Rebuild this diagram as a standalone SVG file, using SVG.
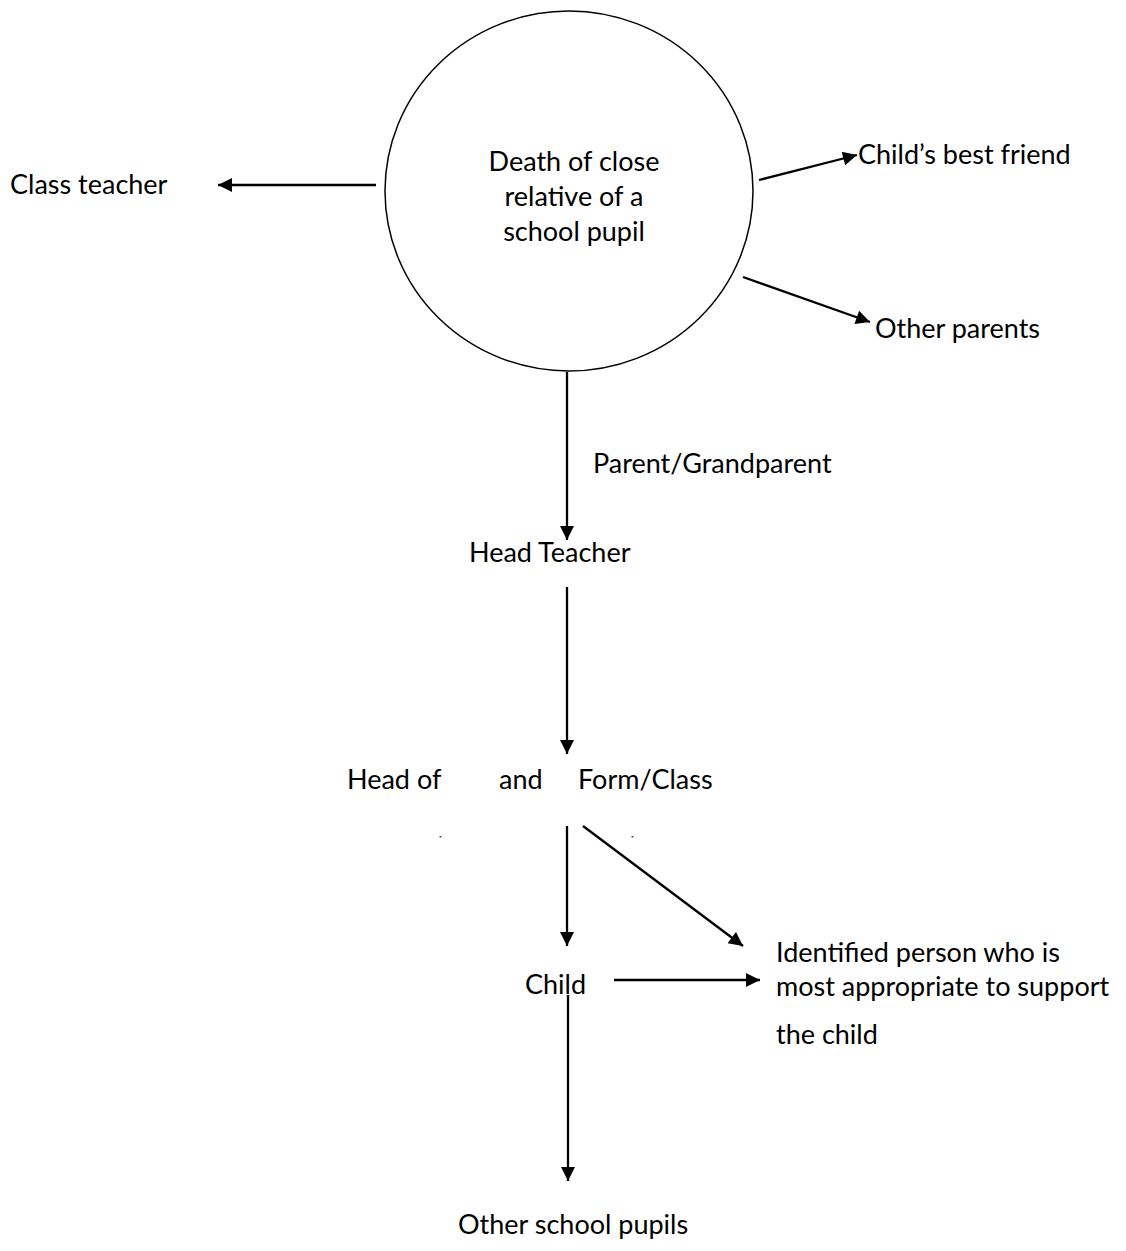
<svg xmlns="http://www.w3.org/2000/svg" width="1126" height="1251" viewBox="0 0 1126 1251">
<style>
text{font-family:Lato,"Open Sans","Liberation Sans",sans-serif;font-size:27px;fill:#000}
.c{text-anchor:middle}
.ln{stroke:#000;stroke-width:2.3;fill:none}
</style>
<defs>
<marker id="ah" viewBox="0 0 10 10" refX="10" refY="5" markerWidth="16" markerHeight="14" markerUnits="userSpaceOnUse" orient="auto">
<path d="M0,0 L10,5 L0,10 z" fill="#000"/>
</marker>
</defs>
<rect width="1126" height="1251" fill="#fff"/>
<g id="death">
<ellipse cx="569" cy="191" rx="184" ry="180" fill="none" stroke="#000" stroke-width="1.5"/>
<text class="c" x="574" y="171">Death of close</text>
<text class="c" x="574" y="206">relative of a</text>
<text class="c" x="574" y="241">school pupil</text>
</g>
<g id="classteacher"><text x="10" y="194">Class teacher</text></g>
<g id="bestfriend"><text x="858" y="164">Child’s best friend</text></g>
<g id="otherparents"><text x="875" y="338">Other parents</text></g>
<g id="parentlabel"><text x="593" y="473">Parent/Grandparent</text></g>
<g id="headteacher"><text x="469" y="562">Head Teacher</text></g>
<g id="headof">
<text x="347" y="789">Head of</text>
<text x="499" y="789">and</text>
<text x="578" y="789">Form/Class</text>
<rect x="439.5" y="836" width="2" height="1.5" fill="#555"/>
<rect x="631.5" y="836" width="2" height="1.5" fill="#555"/>
</g>
<g id="child"><text x="525" y="994">Child</text></g>
<g id="identified">
<text x="776" y="962">Identified person who is</text>
<text x="776" y="996">most appropriate to support</text>
<text x="776" y="1044">the child</text>
</g>
<g id="pupils"><text x="458" y="1234">Other school pupils</text></g>
<g id="connectors">
<line class="ln" x1="376" y1="185" x2="218" y2="185" marker-end="url(#ah)"/>
<line class="ln" x1="759" y1="180" x2="857" y2="155" marker-end="url(#ah)"/>
<line class="ln" x1="743" y1="277" x2="870" y2="322" marker-end="url(#ah)"/>
<line class="ln" x1="567" y1="372" x2="567" y2="540" marker-end="url(#ah)"/>
<line class="ln" x1="567" y1="587" x2="567" y2="754" marker-end="url(#ah)"/>
<line class="ln" x1="567" y1="826" x2="567" y2="946" marker-end="url(#ah)"/>
<line class="ln" x1="583" y1="826" x2="743" y2="946" marker-end="url(#ah)"/>
<line class="ln" x1="614" y1="980" x2="760" y2="980" marker-end="url(#ah)"/>
<line class="ln" x1="568" y1="995" x2="568" y2="1181" marker-end="url(#ah)"/>
</g>
</svg>
